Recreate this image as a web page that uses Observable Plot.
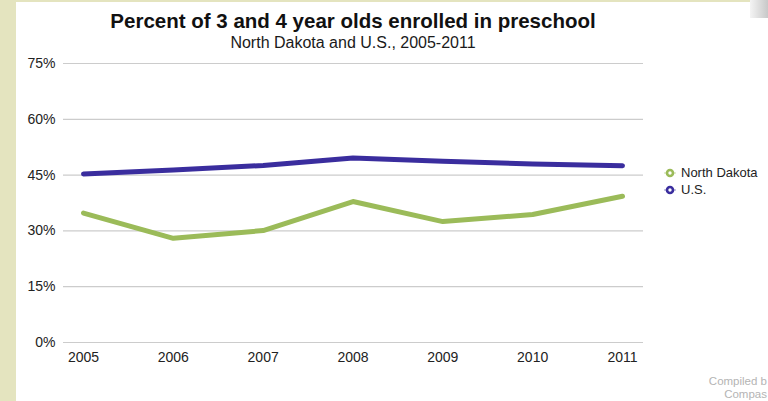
<!DOCTYPE html>
<html>
<head>
<meta charset="utf-8">
<script src="https://cdn.jsdelivr.net/npm/d3@7"></script>
<script src="https://cdn.jsdelivr.net/npm/@observablehq/plot@0.6"></script>
<style>
  html, body { margin: 0; padding: 0; background: #e4e4bf; }
  #wrap { position: relative; width: 768px; height: 401px; overflow: hidden; background: #e4e4bf; font-family: Arial, "Liberation Sans", sans-serif; }
  #panel { position: absolute; left: 16px; top: 2px; right: 0; bottom: 0; background: #ffffff; }
  #header { position: relative; height: 56px; }
  .title { position: absolute; left: 0; width: 706px; text-align: center; white-space: nowrap; color: #111; line-height: 1; }
  #t1 { top: 11px; font-size: 20.5px; font-weight: bold; }
  #t2 { top: 35px; font-size: 16px; color: #1a1a1a; }
  #chart { position: relative; }
  #chart svg { display: block; }
  .leg { position: absolute; left: 664px; font-size: 13px; color: #222; line-height: 1; white-space: nowrap; display: flex; align-items: center; }
  .leg svg { margin-right: 5px; }
  .credit { position: absolute; right: 1px; font-size: 11.5px; color: #b4b4b4; white-space: nowrap; line-height: 1; }
  #corner { position: absolute; left: 750px; top: 0; width: 18px; height: 18px; background: linear-gradient(90deg, #f4f4f4, #c8c8c8); }
</style>
</head>
<body>
<div id="wrap">
  <div id="panel"></div>
  <div id="corner"></div>
  <div id="header">
    <div class="title" id="t1">Percent of 3 and 4 year olds enrolled in preschool</div>
    <div class="title" id="t2">North Dakota and U.S., 2005-2011</div>
  </div>
  <div id="chart"></div>
</div>
<script>
// ---- data ----
const years = [2005, 2006, 2007, 2008, 2009, 2010, 2011];
const northDakota = [34.8, 28.0, 30.1, 37.9, 32.5, 34.4, 39.3];
const us = [45.3, 46.4, 47.6, 49.6, 48.7, 48.0, 47.5];
const yTicks = [0, 15, 30, 45, 60, 75];
const seriesNames = ["North Dakota", "U.S."];
const seriesColors = ["#9bbb59", "#3a2d9e"];
// the credit is cut off by the edge of the reference picture; only its visible part is shown
const creditLines = ["Compiled b", "Compas"];

const rows = [];
years.forEach((y, i) => {
  rows.push({year: y, value: northDakota[i], series: seriesNames[0]});
  rows.push({year: y, value: us[i], series: seriesNames[1]});
});

const plot = Plot.plot({
  width: 768,
  height: 345,
  marginLeft: 63,
  marginRight: 125,
  marginTop: 7,
  marginBottom: 59,
  style: {background: "transparent", fontFamily: "Arial, 'Liberation Sans', sans-serif", fontSize: "14px", color: "#222"},
  x: {domain: [2005, 2011], insetLeft: 20, insetRight: 21, ticks: years, tickFormat: d => String(d), tickSize: 0, tickPadding: 10, label: null},
  y: {domain: [0, 75], ticks: yTicks, tickFormat: d => d + "%", tickSize: 0, tickPadding: 8, label: null},
  color: {domain: seriesNames, range: seriesColors},
  marks: [
    Plot.ruleY(yTicks, {stroke: "#cccccc", strokeWidth: 1.2}),
    Plot.line(rows, {x: "year", y: "value", z: "series", stroke: "series", strokeWidth: 5, strokeLinejoin: "round", strokeLinecap: "round"})
  ]
});
document.getElementById("chart").appendChild(plot);

// legend (HTML, from the same series arrays)
const wrap = document.getElementById("wrap");
const legTops = [166, 183];
seriesNames.forEach((name, i) => {
  const d = document.createElement("div");
  d.className = "leg";
  d.style.top = legTops[i] + "px";
  d.innerHTML = `<svg width="12" height="12" viewBox="0 0 12 12"><line x1="0" y1="6" x2="12" y2="6" stroke="${seriesColors[i]}" stroke-width="1.5" opacity="0.35"/><circle cx="6" cy="6" r="3" fill="white" stroke="${seriesColors[i]}" stroke-width="2.6"/></svg>`;
  const s = document.createElement("span");
  s.textContent = name;
  d.appendChild(s);
  wrap.appendChild(d);
});

// faint credit text at the bottom right
const creditTops = [376, 389];
creditLines.forEach((t, i) => {
  const c = document.createElement("div");
  c.className = "credit";
  c.style.top = creditTops[i] + "px";
  c.textContent = t;
  wrap.appendChild(c);
});
</script>
</body>
</html>
